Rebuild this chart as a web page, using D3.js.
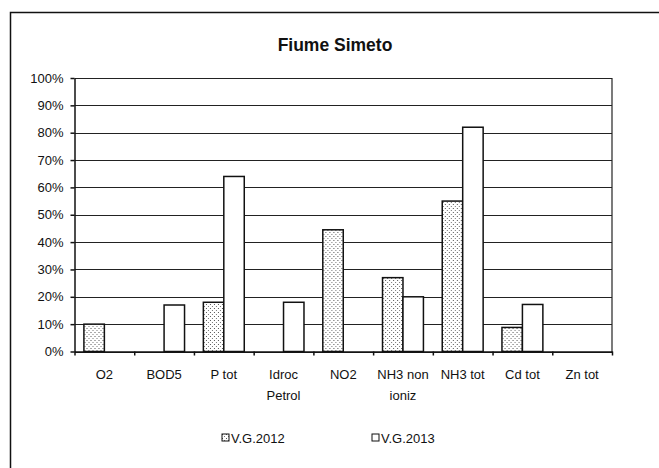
<!DOCTYPE html>
<html>
<head>
<meta charset="utf-8">
<script src="https://cdn.jsdelivr.net/npm/d3@7"></script>
<style>
  html, body { margin: 0; padding: 0; background: #fff; }
  svg { display: block; }
  text { font-family: "Liberation Sans", Arial, sans-serif; fill: #111; }
</style>
</head>
<body>
<svg id="chart" width="659" height="468"></svg>
<script>
// ---- data ----
const title = "Fiume Simeto";
const categories = ["O2", "BOD5", "P tot", "Idroc\nPetrol", "NO2", "NH3 non\nioniz", "NH3 tot", "Cd tot", "Zn tot"];
const seriesNames = ["V.G.2012", "V.G.2013"];
const values2012 = [10, 0, 18, 0, 44.5, 27, 55, 8.8, 0];
const values2013 = [0, 17, 64, 18, 0, 20, 82, 17.2, 0];
const yTicks = [0, 10, 20, 30, 40, 50, 60, 70, 80, 90, 100];
const yTickLabels = ["0%", "10%", "20%", "30%", "40%", "50%", "60%", "70%", "80%", "90%", "100%"];

// ---- layout ----
const svg = d3.select("#chart");
const plot = { left: 74.5, right: 612, top: 78, bottom: 351.5 };

// pattern for 2012 series
const defs = svg.append("defs");
const pat = defs.append("pattern").attr("id", "dots").attr("patternUnits", "userSpaceOnUse")
  .attr("width", 4).attr("height", 4);
pat.append("rect").attr("width", 4).attr("height", 4).attr("fill", "#fff");
pat.append("rect").attr("x", 0).attr("y", 0).attr("width", 1).attr("height", 1).attr("fill", "#555");
pat.append("rect").attr("x", 2).attr("y", 2).attr("width", 1).attr("height", 1).attr("fill", "#777");

const fills = ["url(#dots)", "#fff"];

// frame (extends off canvas right/bottom)
svg.append("path").attr("d", "M10.5,480 L10.5,12.5 L670,12.5")
  .attr("fill", "none").attr("stroke", "#111").attr("stroke-width", 1.5);

// title
svg.append("text").attr("x", 335).attr("y", 51).attr("text-anchor", "middle")
  .style("font-size", "17.5px").style("font-weight", "bold").text(title);

// scales
const y = d3.scaleLinear().domain([0, 100]).range([plot.bottom, plot.top]);
const x0 = d3.scaleBand().domain(categories).range([plot.left, plot.right]).paddingInner(0).paddingOuter(0);
const x1 = d3.scaleBand().domain(seriesNames).range([0, x0.bandwidth()]).paddingInner(0).paddingOuter(0.46);
const xIdx = d3.scaleLinear().domain([0, categories.length]).range([plot.left, plot.right]);

// gridlines
svg.append("g").selectAll("line").data(yTicks).join("line")
  .attr("x1", plot.left).attr("x2", plot.right)
  .attr("y1", d => Math.round(y(d)) + 0.5).attr("y2", d => Math.round(y(d)) + 0.5)
  .attr("stroke", "#222").attr("stroke-width", 1.2);

// right border of plot
svg.append("line").attr("x1", plot.right).attr("x2", plot.right)
  .attr("y1", plot.top).attr("y2", plot.bottom + 1).attr("stroke", "#222").attr("stroke-width", 1.2);

// bars
const rows = categories.map((c, i) => ({ c, vals: [values2012[i], values2013[i]] }));
const grp = svg.append("g").selectAll("g").data(rows).join("g")
  .attr("transform", d => `translate(${x0(d.c)},0)`);
grp.selectAll("rect").data(d => d.vals.map((v, j) => ({ v, s: seriesNames[j], j })).filter(o => o.v > 0))
  .join("rect")
  .attr("x", o => x1(o.s)).attr("width", x1.bandwidth())
  .attr("y", o => y(o.v)).attr("height", o => y(0) - y(o.v))
  .attr("fill", o => fills[o.j]).attr("stroke", "#111").attr("stroke-width", 1.5);

// y axis
const yAxis = d3.axisLeft(y).tickValues(yTicks).tickSize(4).tickSizeOuter(0)
  .tickFormat((d, i) => yTickLabels[i]).tickPadding(7);
const gy = svg.append("g").attr("transform", `translate(${plot.left},0)`).call(yAxis);
gy.selectAll("path, line").attr("stroke", "#111").attr("stroke-width", 1.5);
gy.selectAll("text").style("font-size", "13px").attr("fill", "#111");

// x axis (boundary ticks)
const xAxis = d3.axisBottom(xIdx).tickValues(d3.range(categories.length + 1)).tickSize(4)
  .tickSizeOuter(0).tickFormat("");
const gx = svg.append("g").attr("transform", `translate(0,${plot.bottom})`).call(xAxis);
gx.selectAll("path, line").attr("stroke", "#111").attr("stroke-width", 1.5);

// category labels
const lab = svg.append("g").selectAll("text").data(categories).join("text")
  .attr("text-anchor", "middle")
  .attr("x", d => x0(d) + x0.bandwidth() / 2)
  .attr("y", 379)
  .style("font-size", "13px");
lab.selectAll("tspan").data(d => d.split("\n")).join("tspan")
  .attr("x", function () { return d3.select(this.parentNode).attr("x"); })
  .attr("dy", (d, i) => i === 0 ? 0 : 21)
  .text(d => d);

// legend
const legendX = [222, 372];
const lg = svg.append("g").selectAll("g").data(seriesNames).join("g")
  .attr("transform", (d, i) => `translate(${legendX[i]},438)`);
lg.append("rect").attr("x", 0).attr("y", -4).attr("width", 7).attr("height", 7)
  .attr("fill", (d, i) => fills[i]).attr("stroke", "#111").attr("stroke-width", 1);
lg.append("text").attr("x", 9).attr("y", 4.5).style("font-size", "13px").text(d => d);
</script>
</body>
</html>
